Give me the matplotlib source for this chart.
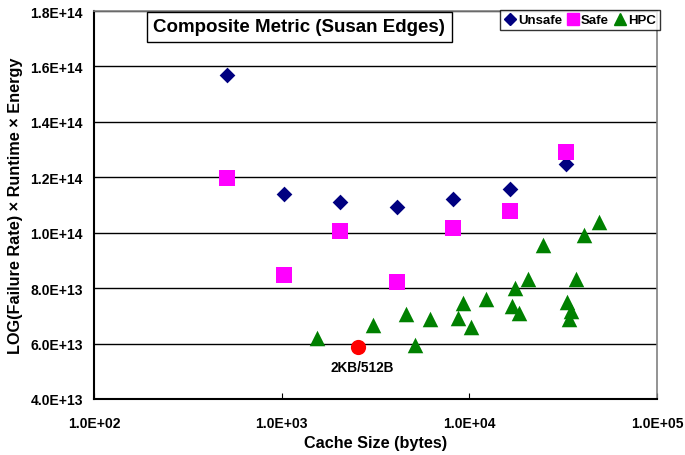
import numpy as np
import matplotlib
matplotlib.use("Agg")
import matplotlib.pyplot as plt
from matplotlib.ticker import FixedLocator, FuncFormatter
from matplotlib.lines import Line2D

plt.rcParams['font.family'] = ['Liberation Sans', 'DejaVu Sans']

# cache sizes (bytes) and composite metric values
unsafe_x = [512, 1024, 2048, 4096, 8192, 16384, 32768]
unsafe_y = [1.569e14, 1.139e14, 1.110e14, 1.092e14, 1.121e14, 1.157e14, 1.248e14]

safe_x = [512, 1024, 2048, 4096, 8192, 16384, 32768]
safe_y = [1.197e14, 8.47e13, 1.006e14, 8.22e13, 1.017e14, 1.078e14, 1.291e14]

hpc_x = [1536, 3072, 4608, 5120, 6144, 8704, 9216, 10240, 12288, 16896,
         17408, 18432, 20480, 24576, 33280, 34816, 33792, 36864, 40960, 49152]
hpc_y = [6.19e13, 6.66e13, 7.06e13, 5.94e13, 6.88e13, 6.94e13, 7.48e13, 6.60e13, 7.60e13, 7.36e13,
         8.00e13, 7.10e13, 8.32e13, 9.55e13, 7.51e13, 7.18e13, 6.88e13, 8.32e13, 9.91e13, 1.039e14]

best_x = [2560]
best_y = [5.87e13]
best_label = "2KB/512B"

y_ticks = [4.0e13, 6.0e13, 8.0e13, 1.0e14, 1.2e14, 1.4e14, 1.6e14, 1.8e14]
x_ticks = [1e2, 1e3, 1e4, 1e5]

fig = plt.figure(figsize=(6.85, 4.56), dpi=100)
ax = fig.add_axes([94 / 685, 1 - 400 / 456, (657 - 94) / 685, (400 - 12) / 456])

ax.set_xscale('log')
ax.set_xlim(1e2, 1e5)
ax.set_ylim(4.0e13, 1.8e14)

# gridlines
for yv in y_ticks[1:]:
    ax.axhline(yv, color='black', linewidth=1.0, zorder=1)

ax.scatter(unsafe_x, unsafe_y, marker='D', s=64, color='#000080', linewidths=0, zorder=3)
ax.scatter(safe_x, safe_y, marker='s', s=120, color='#FF00FF', linewidths=0, zorder=3)
ax.scatter(hpc_x, hpc_y, marker='^', s=125, color='#008000', linewidths=0, zorder=3)
ax.scatter(best_x, best_y, marker='o', s=120, color='#FF0000', linewidths=0, zorder=4)
ax.annotate(best_label, (best_x[0], best_y[0]), xytext=(3, -14), textcoords='offset points',
            ha='center', va='center', fontsize=9.8, fontweight='bold')

ax.yaxis.set_major_locator(FixedLocator(y_ticks))
ax.yaxis.set_major_formatter(FuncFormatter(lambda v, p: f"{v:.1E}"))
ax.xaxis.set_major_locator(FixedLocator(x_ticks))
ax.xaxis.set_major_formatter(FuncFormatter(lambda v, p: f"{v:.1E}"))
ax.xaxis.set_minor_locator(FixedLocator([]))
ax.tick_params(axis='y', length=0, pad=8, labelsize=10)
ax.tick_params(axis='x', direction='in', length=4, pad=12, labelsize=10)
for lbl in ax.get_xticklabels() + ax.get_yticklabels():
    lbl.set_fontweight('bold')

for side in ['left', 'bottom']:
    ax.spines[side].set_color('black')
    ax.spines[side].set_linewidth(1.5)
for side in ['top', 'right']:
    ax.spines[side].set_color('#808080')
    ax.spines[side].set_linewidth(1.2)

ax.set_xlabel("Cache Size (bytes)", fontsize=11.7, fontweight='bold', labelpad=4)
ax.set_ylabel("LOG(Failure Rate) \u00d7 Runtime \u00d7 Energy", fontsize=11.7, fontweight='bold', labelpad=5)

# boxed title
fig.text(299 / 685, 1 - 28 / 456, "Composite Metric (Susan Edges)", ha='center', va='center',
         fontsize=13.5, fontweight='bold',
         bbox=dict(boxstyle='square,pad=0.35', facecolor='white', edgecolor='black', linewidth=1))

# legend
handles = [
    Line2D([], [], marker='D', linestyle='', color='#000080', markersize=6.5),
    Line2D([], [], marker='s', linestyle='', color='#FF00FF', markersize=9),
    Line2D([], [], marker='^', linestyle='', color='#008000', markersize=9),
]
leg = fig.legend(handles, ['Unsafe', 'Safe', 'HPC'], loc='upper right',
                 bbox_to_anchor=(660 / 685, 1 - 11 / 456), borderaxespad=0, ncol=3, frameon=True,
                 fancybox=False, edgecolor='black', handlelength=0.9, handletextpad=0.15,
                 columnspacing=0.4, borderpad=0.3, prop={'weight': 'bold', 'size': 9.5})
leg.get_frame().set_linewidth(1)

fig.savefig("out.png", dpi=100)
